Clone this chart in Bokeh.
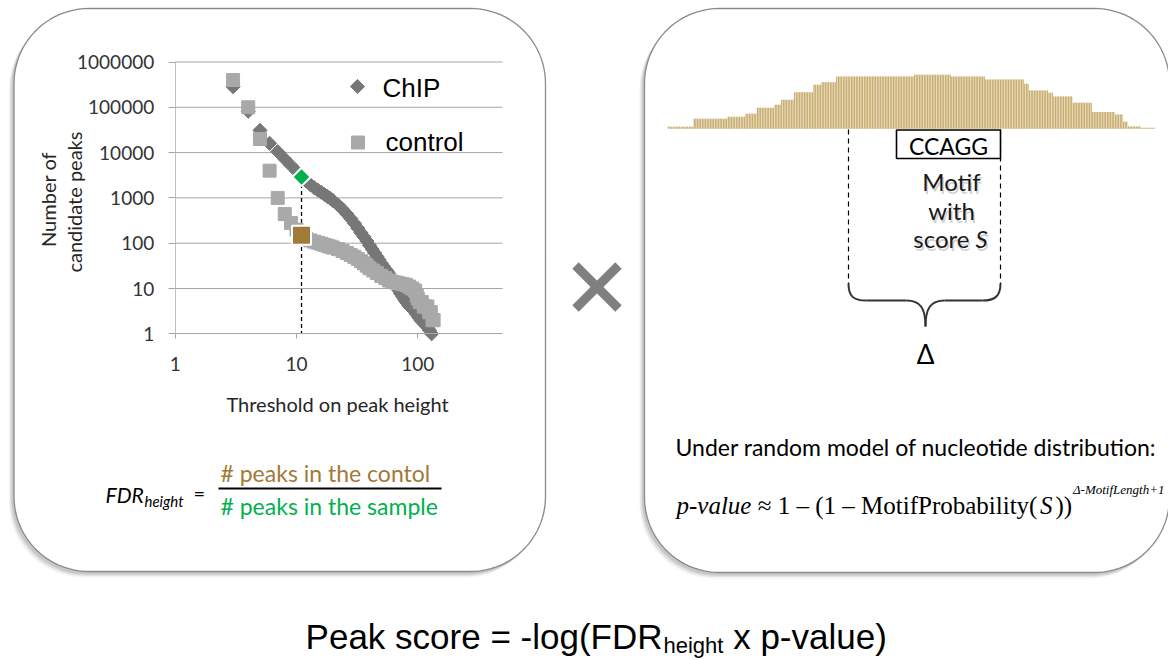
import numpy as np
from bokeh.plotting import figure
from bokeh.models import Range1d, LogScale, LinearScale, LogAxis, FixedTicker, NumeralTickFormatter
from bokeh.core.properties import value
from bokeh.embed import file_html
from bokeh.resources import INLINE

# ---------------- data ----------------
chip_threshold = [3, 4, 5, 6, 7, 8, 9, 10, 11, 12, 13, 14, 15, 16, 17, 18, 19, 20, 22, 24, 26, 28, 30,
                  32, 34, 36, 38, 40, 42, 44, 46, 48, 50, 52, 54, 56, 58, 60, 62, 64, 66, 68, 70, 72,
                  75, 78, 81, 84, 87, 90, 94, 98, 102, 106, 110, 115, 120, 125, 130]
chip_peaks = [285000, 82000, 31000, 16000, 10500, 7200, 5200, 3900, 2900, 2350, 1950, 1680, 1480,
              1330, 1190, 1070, 970, 870, 700, 560, 440, 350, 275, 215, 170, 138, 112, 90, 74, 61,
              51, 43, 36, 31, 27, 24, 21, 18, 16, 14, 12, 10.5, 9, 7.8, 6.6, 5.6, 4.9, 4.3, 3.9,
              3.5, 3.1, 2.7, 2.3, 2.0, 1.8, 1.6, 1.4, 1.2, 1]
control_threshold = [3, 4, 5, 6, 7, 8, 9, 10, 11, 12, 13, 14, 15, 16, 17, 18, 19, 20, 22, 24, 26, 28,
                     30, 32, 34, 36, 38, 40, 43, 46, 50, 54, 58, 62, 66, 70, 75, 80, 85, 90, 95, 98,
                     100, 104, 108, 112, 116, 120, 124, 128, 132, 135]
control_peaks = [400000, 100000, 20000, 4000, 1000, 440, 280, 200, 150, 125, 115, 108, 102, 97, 92,
                 88, 84, 80, 74, 67, 61, 55, 50, 45, 40, 36, 32, 28, 25, 22, 19, 17, 15, 14, 13.5,
                 13, 12.5, 12, 11, 10, 9, 7, 6, 5, 5, 4, 4, 4, 3, 3, 2, 2]
highlight_threshold = 11
highlight_chip = 2900
highlight_control = 150
x_ticks = [1, 10, 100]
y_ticks = [1, 10, 100, 1000, 10000, 100000, 1000000]
x_axis_max = 500

# read coverage profile above the motif (run-length: level, number of bases)
coverage_levels = [2, 10, 12, 15, 21, 24, 29, 36.5, 44, 46.5, 52.3, 54, 52.3, 49.3, 45, 38.3, 36,
                   32.3, 26, 16.7, 14.3, 7, 2.3, 1]
coverage_runs = [16, 21, 11, 7, 11, 4, 8, 12, 5, 9, 48, 23, 21, 24, 3, 12, 3, 12, 12, 14, 5, 3, 8, 9]
motif_text = "CCAGG"

# ---------------- styles / layout ----------------
W, H = 1168, 660
CHIP_C = "#777777"
CTRL_C = "#a9a9a9"
GREEN = "#00b050"
BROWN = "#a07a36"
GRID_C = "#a6a6a6"
TXT = "#262626"
X_ONE, X_DEC = 174.7, 121.3     # pixel of x=1, pixels per decade
Y_ONE, Y_DEC = 333.3, 45.3
BAR_X0, BAR_STEP = 667.0, 1.62
BASE_Y = 128.3

p = figure(width=W, height=H, x_range=Range1d(0, W), y_range=Range1d(H, 0),
           output_backend="svg", toolbar_location=None, title=None,
           x_axis_location=None, y_axis_location=None, min_border=0)
p.outline_line_color = None
p.grid.visible = False
p.background_fill_color = "white"

p.extra_x_ranges = {
    "lx": Range1d(10 ** ((0 - X_ONE) / X_DEC), 10 ** ((W - X_ONE) / X_DEC)),
    "pos": Range1d((0 - BAR_X0) / BAR_STEP - 0.5, (W - BAR_X0) / BAR_STEP - 0.5),
}
p.extra_x_scales = {"lx": LogScale(), "pos": LinearScale()}
p.extra_y_ranges = {
    "ly": Range1d(10 ** ((Y_ONE - H) / Y_DEC), 10 ** (Y_ONE / Y_DEC)),
    "cov": Range1d(BASE_Y - H, BASE_Y),
}
p.extra_y_scales = {"ly": LogScale(), "cov": LinearScale()}


def rrect(x0, y0, x1, y1, r, n=24):
    xs, ys = [], []
    for cx, cy, a0, a1 in [(x1 - r, y0 + r, -90, 0), (x1 - r, y1 - r, 0, 90),
                           (x0 + r, y1 - r, 90, 180), (x0 + r, y0 + r, 180, 270)]:
        t = np.radians(np.linspace(a0, a1, n))
        xs += list(cx + r * np.cos(t))
        ys += list(cy + r * np.sin(t))
    return xs, ys


def txt(x, y, s, size, font="Lato", color=TXT, align="left", baseline="middle",
        style="normal", angle=0.0, alpha=1.0):
    p.text(x=[x], y=[y], text=[s], text_font=value(font), text_font_size=value(f"{size}px"),
           text_color=color, text_align=align, text_baseline=baseline,
           text_font_style=style, angle=angle, text_alpha=alpha)


# ---------------- panels ----------------
for box in [(13.5, 8, 545, 571), (644, 8, 1169, 572)]:
    for dx, dy, a in [(-5, 6, 0.08), (-4, 4.5, 0.14), (-2.5, 3, 0.22)]:
        xs, ys = rrect(*box, 75)
        p.patch([v + dx for v in xs], [v + dy for v in ys], fill_color="#707070",
                fill_alpha=a, line_color=None)
    xs, ys = rrect(*box, 75)
    p.patch(xs, ys, fill_color="white", line_color="#8a8a8a", line_width=1.3)

# multiplication sign
p.segment(x0=[575, 575], y0=[265, 308], x1=[618, 618], y1=[308, 265],
          line_width=9, line_color="#7f7f7f")

# ---------------- left: peak-count chart ----------------
yg = y_ticks[1:]
p.segment(x0=[1] * len(yg), x1=[x_axis_max] * len(yg), y0=yg, y1=yg,
          line_color=GRID_C, line_width=1, x_range_name="lx", y_range_name="ly")

xaxis = LogAxis(x_range_name="lx", y_range_name="ly", fixed_location=1, bounds=(1, x_axis_max),
                ticker=FixedTicker(ticks=x_ticks), formatter=NumeralTickFormatter(format="0"),
                axis_line_color=GRID_C, major_tick_line_color=GRID_C,
                major_tick_out=5, major_tick_in=0, minor_tick_out=0, minor_tick_in=0,
                major_label_standoff=18, major_label_text_font="Lato",
                major_label_text_font_size="19px", major_label_text_color="#333333")
p.add_layout(xaxis, "below")
yaxis = LogAxis(x_range_name="lx", y_range_name="ly", fixed_location=1, bounds=(1, 1000000),
                ticker=FixedTicker(ticks=y_ticks), formatter=NumeralTickFormatter(format="0"),
                axis_line_color="#bfbfbf", major_tick_line_color=GRID_C,
                major_tick_out=7, major_tick_in=0, minor_tick_out=0, minor_tick_in=0,
                major_label_standoff=14, major_label_text_font="Lato",
                major_label_text_font_size="19px", major_label_text_color="#333333")
p.add_layout(yaxis, "left")

p.segment(x0=[highlight_threshold], x1=[highlight_threshold], y0=[highlight_chip], y1=[1],
          line_color="black", line_dash="4 3", line_width=1.3,
          x_range_name="lx", y_range_name="ly")
p.scatter(chip_threshold, chip_peaks, marker="square", angle=np.pi / 4, size=10,
          fill_color=CHIP_C, line_color=CHIP_C, x_range_name="lx", y_range_name="ly")
p.scatter(control_threshold, control_peaks, marker="square", size=13,
          fill_color=CTRL_C, line_color=CTRL_C, x_range_name="lx", y_range_name="ly")
p.scatter([highlight_threshold], [highlight_chip], marker="square", angle=np.pi / 4, size=13,
          fill_color=GREEN, line_color="white", line_width=2,
          x_range_name="lx", y_range_name="ly")
p.scatter([highlight_threshold], [highlight_control], marker="square", size=19,
          fill_color=BROWN, line_color="white", line_width=2,
          x_range_name="lx", y_range_name="ly")

# legend
p.scatter([357], [86], marker="square", angle=np.pi / 4, size=10, fill_color=CHIP_C,
          line_color=CHIP_C)
p.scatter([357.5], [142], marker="square", size=13, fill_color=CTRL_C, line_color=CTRL_C)
txt(382, 87, "ChIP", 26, font="Liberation Sans", color="black")
txt(385, 141, "control", 26, font="Liberation Sans", color="black")

# axis titles
txt(337, 403, "Threshold on peak height", 20, align="center")
txt(47, 199, "Number of", 20, align="center", angle=np.pi / 2)
txt(73, 199, "candidate  peaks", 20, align="center", angle=np.pi / 2)

# FDR formula
txt(105, 494, "FDR", 21, style="italic", color="black")
txt(144, 500, "height", 15, style="italic", color="black")
txt(193, 492, "=", 20, color="black")
txt(220, 472, "# peaks in the contol", 23, color=BROWN)
p.segment(x0=[218], x1=[441], y0=[488], y1=[488], line_color="black", line_width=2)
txt(220, 505, "# peaks in the sample", 23, color=GREEN)

# ---------------- right: coverage and motif ----------------
coverage = np.repeat(coverage_levels, coverage_runs)
positions = np.arange(len(coverage))
p.vbar(x=positions, top=coverage, bottom=0, width=1.0, fill_color="#e6d9b6",
       line_color=None, x_range_name="pos", y_range_name="cov")
p.vbar(x=positions, top=coverage, bottom=0, width=0.45, fill_color="#bf9e5c",
       line_color=None, x_range_name="pos", y_range_name="cov")

p.segment(x0=[848, 1000], x1=[848, 1000], y0=[129, 129], y1=[284, 284],
          line_color="black", line_dash="5 4", line_width=1.2)
p.quad(left=[896], right=[1000], top=[129.5], bottom=[158], fill_color="white",
       line_color="black", line_width=1.6)
txt(948, 145, motif_text, 23, align="center", color="black")

for dx, dy, col, a in [(1.5, 2.5, "#9a9a9a", 0.45), (0, 0, "#1a1a1a", 1.0)]:
    txt(951 + dx, 181 + dy, "Motif", 24, align="center", color=col, alpha=a)
    txt(951 + dx, 210 + dy, "with", 24, align="center", color=col, alpha=a)
    txt(969 + dx, 238 + dy, "score", 24, align="right", color=col, alpha=a)
    txt(975 + dx, 238 + dy, "S", 24, style="italic", color=col, alpha=a)

# curly brace
bc = "#333333"
p.bezier(x0=[848, 906, 925, 982], y0=[283, 300, 326, 300],
         x1=[866, 925, 944, 1000], y1=[300, 326, 300, 283],
         cx0=[848, 920, 925, 994], cy0=[296, 300, 308, 300],
         cx1=[853, 925, 930, 1000], cy1=[300, 308, 300, 296],
         line_color=bc, line_width=2)
p.segment(x0=[866, 944], x1=[906, 982], y0=[300, 300], y1=[300, 300], line_color=bc,
          line_width=2)
txt(925, 353, "Δ", 26, align="center", color="black")

txt(675, 446, "Under random model of nucleotide distribution:", 23, color="black")

# p-value formula (Liberation Serif, pieces placed by Times metrics)
fs, fsup = 25, 13
bx, by = 676, 505
serif = "Liberation Serif"
txt(bx, by, "p-value", fs, font=serif, style="italic", color="black")
x1_ = bx + 3.0 * fs + 0.25 * fs
txt(x1_, by, "\u2248 1 \u2013 (1 \u2013 MotifProbability(", fs, font=serif, color="black")
xs_ = x1_ + 11.188 * fs + 0.1 * fs
txt(xs_, by, "S", fs, font=serif, style="italic", color="black")
xc_ = xs_ + 0.5 * fs + 0.12 * fs
txt(xc_, by, "))", fs, font=serif, color="black")
txt(xc_ + 0.7 * fs, by - 16, "\u0394-MotifLength+1", fsup, font=serif, style="italic",
    color="black")

# ---------------- bottom title ----------------
ts, tsub = 35, 22
xs_sub = 662
txt(xs_sub, 636, "Peak score = -log(FDR", ts, font="Liberation Sans", align="right",
    color="black")
txt(xs_sub + 1, 645, "height", tsub, font="Liberation Sans", color="black")
txt(xs_sub + 1 + 2.724 * tsub + 0.278 * ts, 636, "x p-value)", ts, font="Liberation Sans",
    color="black")

open("out.html", "w").write(file_html(p, INLINE))
